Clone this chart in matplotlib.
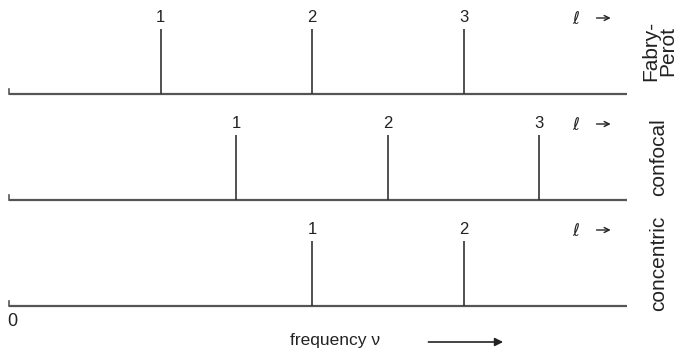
import matplotlib.pyplot as plt

plt.rcParams['font.family'] = ['Liberation Sans', 'DejaVu Sans']

# mode frequencies in units of the Fabry-Perot mode spacing c/2d
resonators = ['Fabry-\nPerot', 'confocal', 'concentric']
fp_modes = [1, 2, 3]
confocal_modes = [1.5, 2.5, 3.5]
concentric_modes = [2, 3]
mode_labels = [['1', '2', '3'], ['1', '2', '3'], ['1', '2']]
modes = [fp_modes, confocal_modes, concentric_modes]

x0, unit = 9, 151.5          # pixel position of zero frequency and of one spacing
baselines = [94, 200, 306]   # pixel rows of the three frequency axes
height = 65
axis_end = 4.08

fig = plt.figure(figsize=(6.89, 3.57), dpi=100)
ax = fig.add_axes([0, 0, 1, 1])
ax.set_xlim(-x0 / unit, (689 - x0) / unit)
ax.set_ylim(357, 0)
ax.axis('off')

txt = '#222222'
for name, freqs, labs, yb in zip(resonators, modes, mode_labels, baselines):
    ax.plot([0, axis_end], [yb, yb], color='#555555', lw=1.6, solid_capstyle='butt')
    ax.plot([0, 0], [yb, yb - 5], color='#555555', lw=1.2)
    ax.vlines(freqs, yb - height, yb, color='#333333', lw=1.2)
    for f, t in zip(freqs, labs):
        ax.text(f, yb - height - 11, t, ha='center', va='center', fontsize=12, color=txt)
    ax.text(3.74, yb - height - 11, r'$\ell$', ha='center', va='center', fontsize=12, color=txt)
    ax.annotate('', xy=(3.99, yb - height - 11), xytext=(3.86, yb - height - 11),
                arrowprops=dict(arrowstyle='->', color=txt, lw=1.0, mutation_scale=9))
    ax.text(4.29, yb - 43, name, rotation=90, ha='center', va='center', fontsize=15,
            color=txt, linespacing=0.85, multialignment='center')

ax.text(0.02, 322, '0', ha='center', va='center', fontsize=13, color=txt)
ax.text(2.15, 341, 'frequency ν', ha='center', va='center', fontsize=12.5, color=txt)
ax.annotate('', xy=(3.28, 342), xytext=(2.75, 342),
            arrowprops=dict(arrowstyle='-|>', color=txt, lw=1.2, mutation_scale=12))

fig.savefig('out.png', dpi=100)
